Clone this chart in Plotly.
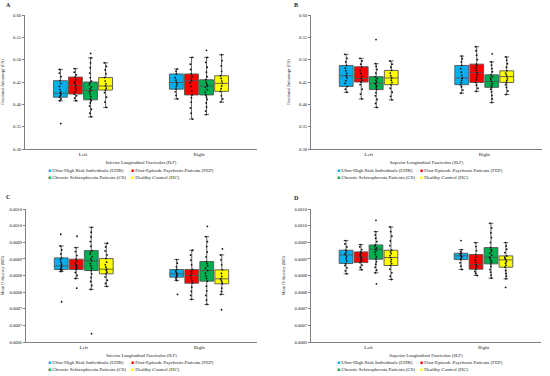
import plotly.graph_objects as go

W, H = 550, 376

SIDES = ['Left', 'Right']
GROUPS = ['UHR', 'FEP', 'CS', 'HC']
GROUP_NAMES = {
    'UHR': 'Ultra-High Risk Individuals (UHR)',
    'FEP': 'First-Episode Psychosis Patients (FEP)',
    'CS': 'Chronic Schizophrenia Patients (CS)',
    'HC': 'Healthy Control (HC)',
}
COLORS = {'UHR': '#00B0F0', 'FEP': '#FF0000', 'CS': '#00B050', 'HC': '#FFFF00'}

FA_TICKVALS = [0.30, 0.35, 0.40, 0.45, 0.50, 0.55, 0.60]
FA_TICKTEXT = ['0.30', '0.35', '0.40', '0.45', '0.50', '0.55', '0.60']
MD_TICKVALS = [0.0006, 0.00065, 0.0007, 0.00075, 0.0008, 0.00085, 0.0009, 0.00095, 0.0010]
MD_TICKTEXT = ['0.0006', '0.0007', '0.0007', '0.0008', '0.0008', '0.0009', '0.0009', '0.0010', '0.0010']

# ---------- Panel A: FA, ILF  (values per side: [Left, Right]) ----------
A_LOWER = {'UHR': [0.408, 0.412], 'FEP': [0.408, 0.367], 'CS': [0.372, 0.377], 'HC': [0.393, 0.405]}
A_Q1 = {'UHR': [0.416, 0.434], 'FEP': [0.423, 0.421], 'CS': [0.410, 0.421], 'HC': [0.432, 0.429]}
A_MEDIAN = {'UHR': [0.425, 0.449], 'FEP': [0.442, 0.453], 'CS': [0.431, 0.441], 'HC': [0.441, 0.447]}
A_Q3 = {'UHR': [0.453, 0.468], 'FEP': [0.461, 0.468], 'CS': [0.450, 0.455], 'HC': [0.460, 0.464]}
A_UPPER = {'UHR': [0.478, 0.479], 'FEP': [0.480, 0.505], 'CS': [0.504, 0.505], 'HC': [0.493, 0.511]}
A_PTS_LEFT = {
    'UHR': [0.357, 0.408, 0.412, 0.416, 0.419, 0.422, 0.425, 0.428, 0.433, 0.440, 0.447, 0.453, 0.462, 0.470, 0.478],
    'FEP': [0.408, 0.414, 0.419, 0.423, 0.428, 0.433, 0.437, 0.442, 0.446, 0.450, 0.455, 0.461, 0.466, 0.472, 0.480],
    'CS': [0.372, 0.380, 0.389, 0.396, 0.403, 0.408, 0.412, 0.418, 0.423, 0.428, 0.431, 0.435, 0.439, 0.444, 0.448,
           0.452, 0.460, 0.470, 0.482, 0.493, 0.504, 0.514],
    'HC': [0.393, 0.405, 0.416, 0.426, 0.432, 0.436, 0.441, 0.446, 0.452, 0.460, 0.468, 0.477, 0.485, 0.493],
}
A_PTS_RIGHT = {
    'UHR': [0.412, 0.420, 0.428, 0.434, 0.440, 0.445, 0.449, 0.454, 0.460, 0.468, 0.474, 0.479],
    'FEP': [0.367, 0.380, 0.392, 0.405, 0.415, 0.421, 0.430, 0.440, 0.448, 0.453, 0.457, 0.462, 0.468, 0.478, 0.490, 0.505],
    'CS': [0.377, 0.385, 0.394, 0.403, 0.411, 0.416, 0.421, 0.427, 0.433, 0.438, 0.441, 0.445, 0.449, 0.455, 0.462,
           0.472, 0.483, 0.494, 0.505, 0.521],
    'HC': [0.405, 0.412, 0.419, 0.429, 0.435, 0.441, 0.447, 0.452, 0.458, 0.464, 0.474, 0.486, 0.498, 0.511],
}

# ---------- Panel B: FA, SLF ----------
B_LOWER = {'UHR': [0.427, 0.425], 'FEP': [0.412, 0.429], 'CS': [0.393, 0.404], 'HC': [0.410, 0.422]}
B_Q1 = {'UHR': [0.440, 0.444], 'FEP': [0.450, 0.449], 'CS': [0.433, 0.438], 'HC': [0.444, 0.449]}
B_MEDIAN = {'UHR': [0.464, 0.459], 'FEP': [0.458, 0.471], 'CS': [0.447, 0.451], 'HC': [0.459, 0.462]}
B_Q3 = {'UHR': [0.487, 0.487], 'FEP': [0.484, 0.490], 'CS': [0.462, 0.466], 'HC': [0.476, 0.475]}
B_UPPER = {'UHR': [0.512, 0.508], 'FEP': [0.503, 0.529], 'CS': [0.491, 0.495], 'HC': [0.497, 0.506]}
B_PTS_LEFT = {
    'UHR': [0.427, 0.434, 0.440, 0.447, 0.453, 0.459, 0.464, 0.469, 0.475, 0.481, 0.487, 0.495, 0.503, 0.512],
    'FEP': [0.412, 0.423, 0.434, 0.444, 0.450, 0.454, 0.458, 0.463, 0.469, 0.476, 0.484, 0.490, 0.497, 0.503],
    'CS': [0.393, 0.402, 0.411, 0.419, 0.426, 0.433, 0.437, 0.441, 0.444, 0.447, 0.450, 0.454, 0.458, 0.462, 0.470,
           0.478, 0.485, 0.491, 0.545],
    'HC': [0.410, 0.418, 0.427, 0.436, 0.444, 0.449, 0.454, 0.459, 0.464, 0.470, 0.476, 0.483, 0.490, 0.497],
}
B_PTS_RIGHT = {
    'UHR': [0.425, 0.432, 0.439, 0.444, 0.449, 0.454, 0.459, 0.465, 0.472, 0.480, 0.487, 0.495, 0.502, 0.508],
    'FEP': [0.429, 0.436, 0.443, 0.449, 0.455, 0.461, 0.466, 0.471, 0.476, 0.481, 0.486, 0.490, 0.500, 0.510, 0.520, 0.529],
    'CS': [0.404, 0.412, 0.420, 0.428, 0.434, 0.438, 0.442, 0.446, 0.451, 0.455, 0.459, 0.462, 0.466, 0.473, 0.480,
           0.488, 0.495, 0.513],
    'HC': [0.422, 0.430, 0.438, 0.444, 0.449, 0.453, 0.457, 0.462, 0.466, 0.470, 0.475, 0.483, 0.491, 0.499, 0.506],
}

# ---------- Panel C: MD, ILF ----------
C_LOWER = {'UHR': [0.000812, 0.000785], 'FEP': [0.000791, 0.000728], 'CS': [0.000758, 0.000713], 'HC': [0.000767, 0.000743]}
C_Q1 = {'UHR': [0.000818, 0.000795], 'FEP': [0.000818, 0.000777], 'CS': [0.000815, 0.000783], 'HC': [0.000805, 0.000775]}
C_MEDIAN = {'UHR': [0.000829, 0.000805], 'FEP': [0.000829, 0.000800], 'CS': [0.000844, 0.000815], 'HC': [0.000819, 0.000790]}
C_Q3 = {'UHR': [0.000853, 0.000818], 'FEP': [0.000849, 0.000818], 'CS': [0.000875, 0.000842], 'HC': [0.000851, 0.000817]}
C_UPPER = {'UHR': [0.000889, 0.000848], 'FEP': [0.000884, 0.000876], 'CS': [0.000945, 0.000917], 'HC': [0.000897, 0.000862]}
C_PTS_LEFT = {
    'UHR': [0.000721, 0.000812, 0.000816, 0.000818, 0.000822, 0.000826, 0.000829, 0.000834, 0.000840, 0.000847,
            0.000853, 0.000865, 0.000877, 0.000889, 0.000924],
    'FEP': [0.000762, 0.000791, 0.000800, 0.000809, 0.000818, 0.000822, 0.000826, 0.000829, 0.000833, 0.000838,
            0.000843, 0.000849, 0.000860, 0.000872, 0.000884, 0.000918],
    'CS': [0.000625, 0.000758, 0.000770, 0.000782, 0.000794, 0.000805, 0.000815, 0.000822, 0.000829, 0.000836,
           0.000844, 0.000850, 0.000857, 0.000864, 0.000870, 0.000875, 0.000888, 0.000902, 0.000916, 0.000930, 0.000945],
    'HC': [0.000767, 0.000776, 0.000786, 0.000796, 0.000805, 0.000810, 0.000815, 0.000819, 0.000825, 0.000832,
           0.000840, 0.000851, 0.000862, 0.000874, 0.000886, 0.000897],
}
C_PTS_RIGHT = {
    'UHR': [0.000743, 0.000785, 0.000790, 0.000795, 0.000799, 0.000802, 0.000805, 0.000809, 0.000813, 0.000818,
            0.000826, 0.000837, 0.000848],
    'FEP': [0.000728, 0.000740, 0.000752, 0.000765, 0.000777, 0.000784, 0.000791, 0.000800, 0.000806, 0.000812,
            0.000818, 0.000832, 0.000846, 0.000861, 0.000876],
    'CS': [0.000713, 0.000726, 0.000740, 0.000754, 0.000768, 0.000783, 0.000791, 0.000799, 0.000807, 0.000815,
           0.000822, 0.000829, 0.000836, 0.000842, 0.000856, 0.000871, 0.000887, 0.000902, 0.000917, 0.000948],
    'HC': [0.000697, 0.000743, 0.000752, 0.000762, 0.000775, 0.000780, 0.000785, 0.000790, 0.000797, 0.000806,
           0.000817, 0.000832, 0.000847, 0.000862, 0.000880],
}

# ---------- Panel D: MD, SLF ----------
D_LOWER = {'UHR': [0.000805, 0.000818], 'FEP': [0.000817, 0.000800], 'CS': [0.000808, 0.000792], 'HC': [0.000788, 0.000790]}
D_Q1 = {'UHR': [0.000836, 0.000848], 'FEP': [0.000839, 0.000819], 'CS': [0.000849, 0.000835], 'HC': [0.000830, 0.000825]}
D_MEDIAN = {'UHR': [0.000862, 0.000859], 'FEP': [0.000855, 0.000833], 'CS': [0.000879, 0.000855], 'HC': [0.000854, 0.000847]}
D_Q3 = {'UHR': [0.000876, 0.000867], 'FEP': [0.000871, 0.000863], 'CS': [0.000892, 0.000884], 'HC': [0.000876, 0.000859]}
D_UPPER = {'UHR': [0.000905, 0.000878], 'FEP': [0.000893, 0.000899], 'CS': [0.000932, 0.000957], 'HC': [0.000946, 0.000899]}
D_PTS_LEFT = {
    'UHR': [0.000805, 0.000814, 0.000823, 0.000830, 0.000836, 0.000843, 0.000850, 0.000856, 0.000862, 0.000866,
            0.000871, 0.000876, 0.000886, 0.000895, 0.000905],
    'FEP': [0.000817, 0.000824, 0.000831, 0.000839, 0.000843, 0.000847, 0.000851, 0.000855, 0.000859, 0.000863,
            0.000867, 0.000871, 0.000878, 0.000886, 0.000893],
    'CS': [0.000775, 0.000808, 0.000816, 0.000825, 0.000834, 0.000842, 0.000849, 0.000856, 0.000863, 0.000870,
           0.000875, 0.000879, 0.000883, 0.000887, 0.000892, 0.000902, 0.000912, 0.000922, 0.000932, 0.000966],
    'HC': [0.000788, 0.000798, 0.000808, 0.000819, 0.000830, 0.000836, 0.000842, 0.000848, 0.000854, 0.000860,
           0.000866, 0.000871, 0.000876, 0.000890, 0.000904, 0.000918, 0.000932, 0.000946],
}
D_PTS_RIGHT = {
    'UHR': [0.000818, 0.000828, 0.000838, 0.000848, 0.000852, 0.000856, 0.000859, 0.000862, 0.000865, 0.000867,
            0.000872, 0.000878, 0.000905],
    'FEP': [0.000800, 0.000806, 0.000812, 0.000819, 0.000824, 0.000829, 0.000833, 0.000840, 0.000847, 0.000855,
            0.000863, 0.000875, 0.000887, 0.000899],
    'CS': [0.000792, 0.000801, 0.000810, 0.000818, 0.000827, 0.000835, 0.000840, 0.000845, 0.000850, 0.000855,
           0.000861, 0.000867, 0.000873, 0.000878, 0.000884, 0.000899, 0.000914, 0.000928, 0.000943, 0.000957],
    'HC': [0.000764, 0.000790, 0.000798, 0.000806, 0.000815, 0.000825, 0.000831, 0.000837, 0.000842, 0.000847,
           0.000851, 0.000855, 0.000859, 0.000869, 0.000879, 0.000889, 0.000899],
}

FONT = 'Liberation Serif, DejaVu Serif, serif'
TXT = '#222222'

PANELS = [
    dict(label='A', xa='x', ya='y', stats=(A_LOWER, A_Q1, A_MEDIAN, A_Q3, A_UPPER), pl=A_PTS_LEFT, pr=A_PTS_RIGHT,
         xdom=(25, 257), ytop=15, ybot=149, yr=(0.30, 0.60), tv=FA_TICKVALS, tt=FA_TICKTEXT,
         ytitle='Fractional Anisotropy (FA)', xtitle='Inferior Longitudinal Fasciculus (ILF)',
         lab=(4, 5), leg_x=(48, 131), leg_y=(170.0, 176.7)),
    dict(label='B', xa='x2', ya='y2', stats=(B_LOWER, B_Q1, B_MEDIAN, B_Q3, B_UPPER), pl=B_PTS_LEFT, pr=B_PTS_RIGHT,
         xdom=(311, 542), ytop=15, ybot=149, yr=(0.30, 0.60), tv=FA_TICKVALS, tt=FA_TICKTEXT,
         ytitle='Fractional Anisotropy (FA)', xtitle='Superior Longitudinal Fasciculus (SLF)',
         lab=(292, 5), leg_x=(337, 420), leg_y=(170.0, 176.7)),
    dict(label='C', xa='x3', ya='y3', stats=(C_LOWER, C_Q1, C_MEDIAN, C_Q3, C_UPPER), pl=C_PTS_LEFT, pr=C_PTS_RIGHT,
         xdom=(26, 257), ytop=209, ybot=342, yr=(0.0006, 0.0010), tv=MD_TICKVALS, tt=MD_TICKTEXT,
         ytitle='Mean Diffusivity (MD)', xtitle='Inferior Longitudinal Fasciculus (ILF)',
         lab=(4, 197), leg_x=(48, 131), leg_y=(362.5, 369.2)),
    dict(label='D', xa='x4', ya='y4', stats=(D_LOWER, D_Q1, D_MEDIAN, D_Q3, D_UPPER), pl=D_PTS_LEFT, pr=D_PTS_RIGHT,
         xdom=(311, 541), ytop=209, ybot=342, yr=(0.0006, 0.0010), tv=MD_TICKVALS, tt=MD_TICKTEXT,
         ytitle='Mean Diffusivity (MD)', xtitle='Superior Longitudinal Fasciculus (SLF)',
         lab=(292, 198), leg_x=(337, 420), leg_y=(362.5, 369.2)),
]

fig = go.Figure()
layout = dict(
    width=W, height=H, margin=dict(l=0, r=0, t=0, b=0, autoexpand=False),
    paper_bgcolor='white', plot_bgcolor='white',
    boxmode='group', boxgap=0.48, boxgroupgap=0.08,
    font=dict(family=FONT, size=5, color=TXT),
    annotations=[],
)

for p_i, P in enumerate(PANELS):
    lower, q1, med, q3, upper = P['stats']
    for g_i, g in enumerate(GROUPS):
        # quartile box
        fig.add_trace(go.Box(
            x=SIDES, q1=q1[g], median=med[g], q3=q3[g], lowerfence=lower[g], upperfence=upper[g],
            xaxis=P['xa'], yaxis=P['ya'], offsetgroup=f'{P["label"]}{g}', alignmentgroup=P['label'],
            fillcolor=COLORS[g], line=dict(color='#555555', width=0.9), whiskerwidth=0.35,
            boxpoints=False, showlegend=False, hoverinfo='skip',
        ))
        # individual observations (box hidden, points shown) - carries the legend entry
        pts_left, pts_right = P['pl'][g], P['pr'][g]
        n = p_i * 4 + g_i + 1
        leg = 'legend' if n == 1 else f'legend{n}'
        fig.add_trace(go.Box(
            x=[SIDES[0]] * len(pts_left) + [SIDES[1]] * len(pts_right),
            y=pts_left + pts_right,
            xaxis=P['xa'], yaxis=P['ya'], offsetgroup=f'{P["label"]}{g}', alignmentgroup=P['label'],
            fillcolor='rgba(255,255,255,0)', line=dict(color='rgba(255,255,255,0.01)', width=0),
            boxpoints='all', jitter=0.2, pointpos=0,
            marker=dict(color='#111111', size=1.8),
            name=f'<span style="color:{COLORS[g]}">■</span> {GROUP_NAMES[g]}',
            legend=leg, showlegend=True,
        ))
        lx = P['leg_x'][g_i % 2]
        ly = P['leg_y'][g_i // 2]
        layout[leg] = dict(
            x=(lx - 40) / W, y=1 - ly / H, xanchor='left', yanchor='middle',
            orientation='h', bgcolor='rgba(0,0,0,0)', borderwidth=0,
            font=dict(family=FONT, size=5, color=TXT), itemwidth=30,
        )

    xk = 'xaxis' if P['xa'] == 'x' else 'xaxis' + P['xa'][1:]
    yk = 'yaxis' if P['ya'] == 'y' else 'yaxis' + P['ya'][1:]
    layout[xk] = dict(
        domain=[P['xdom'][0] / W, P['xdom'][1] / W], anchor=P['ya'],
        type='category', categoryorder='array', categoryarray=SIDES, range=[-0.5, 1.5],
        showline=True, linecolor='#808080', linewidth=1, showgrid=False, zeroline=False,
        ticks='', tickfont=dict(size=5, color=TXT, family=FONT),
        title=dict(text=P['xtitle'], font=dict(size=4.6, color=TXT, family=FONT), standoff=4),
    )
    layout[yk] = dict(
        domain=[1 - P['ybot'] / H, 1 - P['ytop'] / H], anchor=P['xa'],
        range=list(P['yr']), tickmode='array', tickvals=P['tv'], ticktext=P['tt'],
        showline=True, linecolor='#808080', linewidth=1, showgrid=False, zeroline=False,
        ticks='outside', ticklen=2, tickcolor='#808080',
        tickfont=dict(size=4.6, color=TXT, family=FONT),
        title=dict(text=P['ytitle'], font=dict(size=4.2, color=TXT, family=FONT), standoff=8),
    )
    layout['annotations'].append(dict(
        text=f'<b>{P["label"]}</b>', x=P['lab'][0] / W, y=1 - P['lab'][1] / H,
        xref='paper', yref='paper', xanchor='left', yanchor='middle', showarrow=False,
        font=dict(size=6, color=TXT, family=FONT),
    ))

fig.update_layout(**layout)
fig.write_html('out.html', config={'displayModeBar': False},
               post_script="document.body.style.margin='0';document.body.style.padding='0';")
